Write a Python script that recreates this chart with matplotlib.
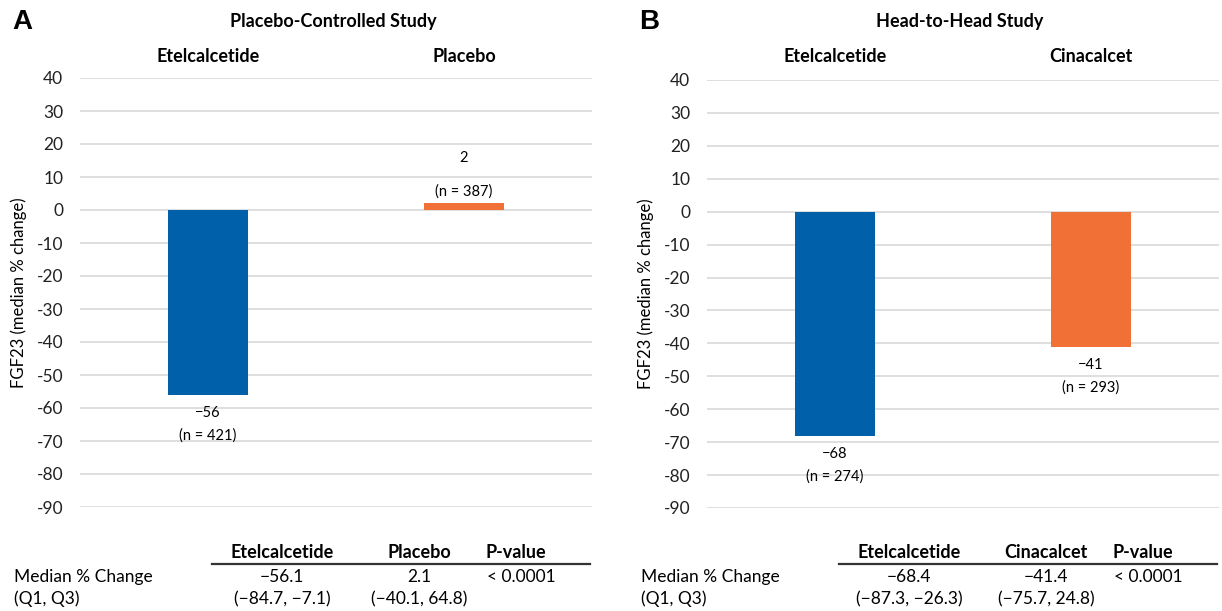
import numpy as np
import matplotlib.pyplot as plt

plt.rcParams['font.family'] = ['Lato', 'DejaVu Sans']
plt.rcParams['axes.unicode_minus'] = False

# panel A: placebo-controlled study
a_title = "Placebo-Controlled Study"
a_groups = ["Etelcalcetide", "Placebo"]
a_values = [-56, 2]
a_n = [421, 387]
a_median = ["\u221256.1", "2.1"]
a_q = ["(\u221284.7, \u22127.1)", "(\u221240.1, 64.8)"]
a_p = "< 0.0001"

# panel B: head-to-head study
b_title = "Head-to-Head Study"
b_groups = ["Etelcalcetide", "Cinacalcet"]
b_values = [-68, -41]
b_n = [274, 293]
b_median = ["\u221268.4", "\u221241.4"]
b_q = ["(\u221287.3, \u221226.3)", "(\u221275.7, 24.8)"]
b_p = "< 0.0001"

colors = ['#0060A9', '#F07035']
yticks = list(range(-90, 41, 10))

W, H = 1222, 611
fig = plt.figure(figsize=(W / 100, H / 100), dpi=100)


def fx(px):
    return px / W


def fy(py):
    return 1 - py / H


def panel(x0, top, bottom, letter, title, groups, values, ns, median, q, pval):
    ax = fig.add_axes([fx(x0), fy(bottom), fx(512), (bottom - top) / H])
    x = np.arange(len(groups))
    ax.bar(x, values, width=0.31, color=colors, zorder=3)
    ax.set_xlim(-0.5, 1.5)
    ax.set_ylim(-90, 40)
    ax.set_yticks(yticks)
    ax.set_yticklabels([str(t) for t in yticks], fontsize=12.5, color='#222222')
    ax.set_xticks([])
    ax.tick_params(axis='y', length=0, pad=12)
    ax.grid(axis='y', color='#D9D9D9', linewidth=1.2, zorder=0)
    for s in ax.spines.values():
        s.set_visible(False)

    for i, (v, n) in enumerate(zip(values, ns)):
        vtxt = str(v).replace('-', '\u2212')
        if v < 0:
            ax.annotate(vtxt, (i, v), xytext=(0, -18), textcoords='offset pixels',
                        ha='center', va='center', fontsize=10.5)
            ax.annotate(f"(n = {n})", (i, v), xytext=(0, -41), textcoords='offset pixels',
                        ha='center', va='center', fontsize=10.5)
        else:
            ax.annotate(vtxt, (i, v), xytext=(0, 45), textcoords='offset pixels',
                        ha='center', va='center', fontsize=10.5)
            ax.annotate(f"(n = {n})", (i, v), xytext=(0, 12), textcoords='offset pixels',
                        ha='center', va='center', fontsize=10.5)
        ax.annotate(groups[i], (i, 1), xycoords=('data', 'axes fraction'),
                    xytext=(0, top - 57), textcoords='offset pixels',
                    ha='center', va='center', fontsize=13, fontweight='bold')

    # letter and title
    fig.text(fx(x0 - 58), fy(22), letter, fontsize=20, fontweight='bold',
             family='Liberation Sans', ha='center', va='center')
    fig.text(fx(x0 + 253), fy(22), title, fontsize=13, fontweight='bold',
             ha='center', va='center')
    fig.text(fx(x0 - 61), fy((top + bottom) / 2), "FGF23 (median % change)",
             rotation=90, fontsize=12, ha='center', va='center')

    # summary table
    cols = [x0 + 202, x0 + 339]
    fig.text(fx(x0 - 66), fy(577), "Median % Change", fontsize=12.5, va='center')
    fig.text(fx(x0 - 66), fy(599), "(Q1, Q3)", fontsize=12.5, va='center')
    for c, g, m, qq in zip(cols, groups, median, q):
        fig.text(fx(c), fy(553), g, fontsize=13, fontweight='bold', ha='center', va='center')
        fig.text(fx(c), fy(577), m, fontsize=12.5, ha='center', va='center')
        fig.text(fx(c), fy(599), qq, fontsize=12.5, ha='center', va='center')
    fig.text(fx(x0 + 436), fy(553), "P-value", fontsize=13, fontweight='bold',
             ha='center', va='center')
    fig.text(fx(x0 + 407), fy(577), pval, fontsize=12.5, ha='left', va='center')
    fig.add_artist(plt.Line2D([fx(x0 + 132), fx(x0 + 510)], [fy(564), fy(564)],
                              color='#333333', linewidth=1.6))
    return ax


panel(80, 78, 507, "A", a_title, a_groups, a_values, a_n, a_median, a_q, a_p)
panel(707, 80, 508, "B", b_title, b_groups, b_values, b_n, b_median, b_q, b_p)

fig.savefig("out.png", dpi=100)
